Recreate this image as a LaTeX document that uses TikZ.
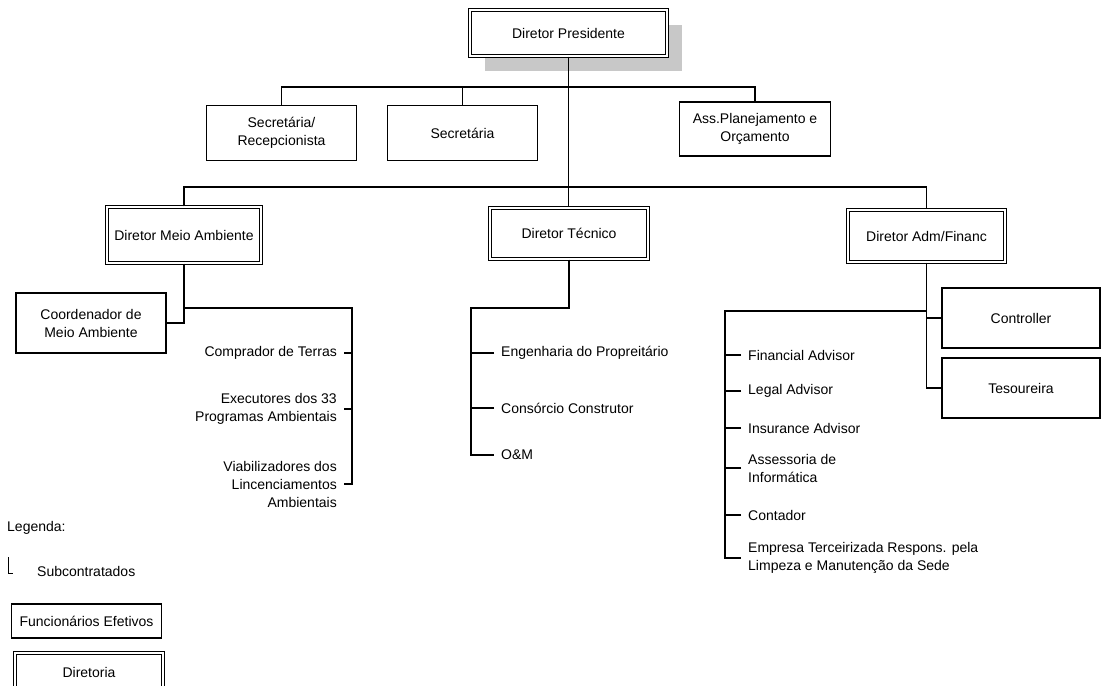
\documentclass[tikz,border=0pt]{standalone}
\usepackage{fontspec}
\setmainfont{Liberation Sans}
\usepackage{tikz}
\usetikzlibrary{shadows}
\definecolor{shadowgray}{RGB}{200,200,200}
\newcommand{\chartfont}{\fontsize{14pt}{18pt}\selectfont}
\tikzstyle{dirbox} = [rectangle, draw=black, double, double distance=1.8pt, line width=1.2pt, fill=white, align=center, inner sep=0pt, font=\chartfont]
\tikzstyle{staffbox} = [rectangle, draw=black, line width=1.6pt, fill=white, align=center, inner sep=0pt, font=\chartfont]
\tikzstyle{subleft} = [anchor=east, align=right, inner xsep=7pt, inner ysep=1pt, font=\chartfont]
\tikzstyle{subright} = [anchor=west, align=left, inner xsep=7pt, inner ysep=1pt, font=\chartfont]
\tikzstyle{conn} = [line width=1.6pt]
\begin{document}
\begin{tikzpicture}[x=1pt, y=-1pt]
\useasboundingbox (0,0) rectangle (1102,685);
\node (pres) [dirbox, minimum width=197pt, minimum height=46pt, drop shadow={shadow xshift=15pt, shadow yshift=-15pt, fill=shadowgray, opacity=1}] at (568.5,33) {Diretor Presidente};
\node (secrec) [staffbox, minimum width=150pt, minimum height=55pt] at (281.5,133) {Secretária/\\Recepcionista};
\node (sec) [staffbox, minimum width=150pt, minimum height=55pt] at (462.5,133) {Secretária};
\node (ass) [staffbox, minimum width=151pt, minimum height=54pt] at (755,129) {Ass.Planejamento e\\Orçamento};
\node (dma) [dirbox, minimum width=154pt, minimum height=56pt] at (184,235) {Diretor Meio Ambiente};
\node (dt) [dirbox, minimum width=158pt, minimum height=51pt] at (569,233.5) {Diretor Técnico};
\node (daf) [dirbox, minimum width=157pt, minimum height=52pt] at (926.5,236) {Diretor Adm/Financ};
\node (coord) [staffbox, minimum width=150pt, minimum height=60pt] at (91,323) {Coordenador de\\Meio Ambiente};
\node (ctrl) [staffbox, minimum width=158pt, minimum height=60pt] at (1021,318) {Controller};
\node (tes) [staffbox, minimum width=158pt, minimum height=60pt] at (1021,388) {Tesoureira};
\node (terras) [subleft] at (344,353) {Comprador de Terras};
\node (exec) [subleft] at (344,409) {Executores dos 33\\Programas Ambientais};
\node (viab) [subleft] at (344,484) {Viabilizadores dos\\Lincenciamentos\\Ambientais};
\node (eng) [subright] at (494,353) {Engenharia do Propreitário};
\node (cons) [subright] at (494,408) {Consórcio Construtor};
\node (om) [subright] at (494,455) {O\&M};
\node (fin) [subright] at (741,355) {Financial Advisor};
\node (legal) [subright] at (741,391) {Legal Advisor};
\node (ins) [subright] at (741,428) {Insurance Advisor};
\node (info) [subright] at (741,468) {Assessoria de\\Informática};
\node (cont) [subright] at (741,515) {Contador};
\node (emp) [subright] at (741,558) {Empresa Terceirizada Respons. pela\\Limpeza e Manutenção da Sede};
\node (leg) [anchor=west, inner sep=0pt, font=\chartfont] at (7,528) {Legenda:};
\node (subc) [anchor=west, inner sep=0pt, font=\chartfont] at (37,571) {Subcontratados};
\node (efet) [staffbox, minimum width=150pt, minimum height=34pt] at (86.5,621) {Funcionários Efetivos};
\node (dirleg) [dirbox, minimum width=148pt, minimum height=38pt, line width=1.4pt] at (89,672) {Diretoria};
\coordinate (sbus) at (569,87);
\coordinate (dbus) at (569,187);
\coordinate (mabus) at (352,308);
\coordinate (tbus) at (471,308);
\coordinate (fbus) at (725,311);
\coordinate (lmark) at (8,557);
\draw[conn] (pres.south) -- (pres.south |- dt.north);
\draw[conn] (secrec.north) |- (sbus) -| (ass.north);
\draw[conn] (sec.north) -- (sec.north |- sbus);
\draw[conn] (dma.north) |- (dbus) -| (daf.north);
\draw[conn] (dma.south) |- (coord.east);
\draw[conn] (dma.south |- mabus) -- (mabus) |- (viab.east);
\draw[conn] (terras.east) -- (terras.east -| mabus);
\draw[conn] (exec.east) -- (exec.east -| mabus);
\draw[conn] (dt.south) |- (tbus) |- (om.west);
\draw[conn] (eng.west) -- (eng.west -| tbus);
\draw[conn] (cons.west) -- (cons.west -| tbus);
\draw[conn] (daf.south) |- (tes.west);
\draw[conn] (ctrl.west) -- (ctrl.west -| daf.south);
\draw[conn] (daf.south |- fbus) -- (fbus) |- (emp.west);
\draw[conn] (fin.west) -- (fin.west -| fbus);
\draw[conn] (legal.west) -- (legal.west -| fbus);
\draw[conn] (ins.west) -- (ins.west -| fbus);
\draw[conn] (info.west) -- (info.west -| fbus);
\draw[conn] (cont.west) -- (cont.west -| fbus);
\draw[line width=1pt] (lmark) -- ++(0,16) -- ++(5,0);
\end{tikzpicture}
\end{document}
